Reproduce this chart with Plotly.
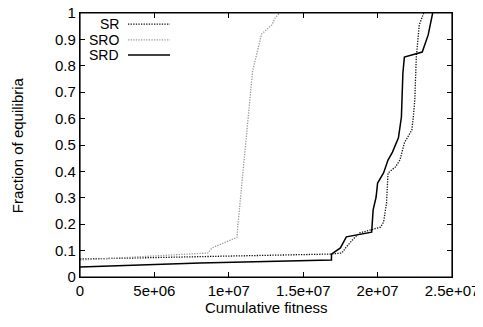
import plotly.graph_objects as go

# Data (x = cumulative fitness, y = fraction of equilibria)
sr_x = [0, 1.69e7, 1.76e7, 1.79e7, 1.85e7, 1.88e7, 2.02e7, 2.04e7, 2.06e7, 2.07e7,
        2.12e7, 2.15e7, 2.18e7, 2.23e7, 2.24e7, 2.25e7, 2.26e7, 2.28e7, 2.31e7]
sr_y = [0.068, 0.087, 0.091, 0.114, 0.152, 0.167, 0.189, 0.208, 0.28, 0.394,
        0.417, 0.443, 0.508, 0.557, 0.606, 0.67, 0.833, 0.955, 1.0]

sro_x = [0, 8.6e6, 8.87e6, 1.055e7, 1.06e7, 1.075e7, 1.10e7, 1.13e7, 1.16e7,
         1.22e7, 1.29e7, 1.31e7, 1.34e7]
sro_y = [0.064, 0.091, 0.11, 0.15, 0.19, 0.28, 0.405, 0.595, 0.78,
         0.92, 0.955, 0.98, 1.0]

srd_x = [0, 8.06e6, 1.69e7, 1.69e7, 1.75e7, 1.79e7, 1.96e7, 1.97e7, 1.99e7, 2.0e7,
         2.04e7, 2.07e7, 2.1e7, 2.14e7, 2.16e7, 2.17e7, 2.18e7, 2.3e7, 2.34e7, 2.37e7]
srd_y = [0.038, 0.053, 0.064, 0.087, 0.11, 0.152, 0.17, 0.254, 0.303, 0.356,
         0.394, 0.443, 0.473, 0.527, 0.606, 0.773, 0.833, 0.852, 0.917, 1.0]

x_tickvals = [0, 5e6, 1e7, 1.5e7, 2e7, 2.5e7]
x_ticktext = ["0", "5e+06", "1e+07", "1.5e+07", "2e+07", "2.5e+07"]
y_tickvals = [0, 0.1, 0.2, 0.3, 0.4, 0.5, 0.6, 0.7, 0.8, 0.9, 1]
y_ticktext = ["0", "0.1", "0.2", "0.3", "0.4", "0.5", "0.6", "0.7", "0.8", "0.9", "1"]

series = [
    ("SR", sr_x, sr_y, dict(color="#111111", width=1.3, dash="1.3px,1.3px")),
    ("SRO", sro_x, sro_y, dict(color="#999999", width=1.3, dash="1.3px,1.3px")),
    ("SRD", srd_x, srd_y, dict(color="#000000", width=1.5, dash="solid")),
]

FONT = "Liberation Sans, Arial, sans-serif"
FS = 15
fig = go.Figure()
for name, xs, ys, ln in series:
    fig.add_trace(go.Scatter(x=xs, y=ys, mode="lines", name=name, line=ln,
                             showlegend=False))

# gnuplot-style key: right-aligned text followed by line sample
key_y = [0.958, 0.898, 0.841]
for (name, _, _, ln), ky in zip(series, key_y):
    fig.add_annotation(x=0.1075, y=ky, xref="paper", yref="paper", text=name,
                       showarrow=False, xanchor="right", yanchor="middle",
                       borderpad=0, font=dict(family=FONT, size=14, color="#000"))
    fig.add_shape(type="line", xref="paper", yref="paper", x0=0.129, x1=0.242,
                  y0=ky, y1=ky, line=ln)

# plot frame
fig.add_shape(type="rect", xref="paper", yref="paper", x0=0, x1=1, y0=0, y1=1,
              line=dict(color="#000", width=1.2), layer="above")

# axis titles
fig.add_annotation(x=0.5, y=-0.117, xref="paper", yref="paper", text="Cumulative fitness",
                   showarrow=False, xanchor="center", yanchor="middle",
                   font=dict(family=FONT, size=FS, color="#000"))
fig.add_annotation(x=-0.169, y=0.5, xref="paper", yref="paper", text="Fraction of equilibria",
                   showarrow=False, xanchor="center", yanchor="middle", textangle=-90,
                   font=dict(family=FONT, size=FS, color="#000"))

axis_common = dict(showline=True, linecolor="#000", linewidth=1.2, mirror="ticks",
                   ticks="inside", ticklen=5, tickcolor="#000", showgrid=False,
                   zeroline=False, automargin=False, ticklabeloverflow="allow",
                   tickfont=dict(family=FONT, size=FS, color="#000"))
fig.update_xaxes(range=[0, 2.5e7], tickvals=x_tickvals, ticktext=x_ticktext, **axis_common)
fig.update_yaxes(range=[0, 1], tickvals=y_tickvals, ticktext=y_ticktext, **axis_common)
# page body adds an 8px offset; figure sized to fit the window without scrolling,
# placing the plot box at x 80-452, y 13-277 of the window
fig.update_layout(width=467, height=311, margin=dict(l=72, r=23, t=5, b=42, autoexpand=False),
                  plot_bgcolor="white", paper_bgcolor="white", showlegend=False)
fig.write_html("out.html", config={"displayModeBar": False})
